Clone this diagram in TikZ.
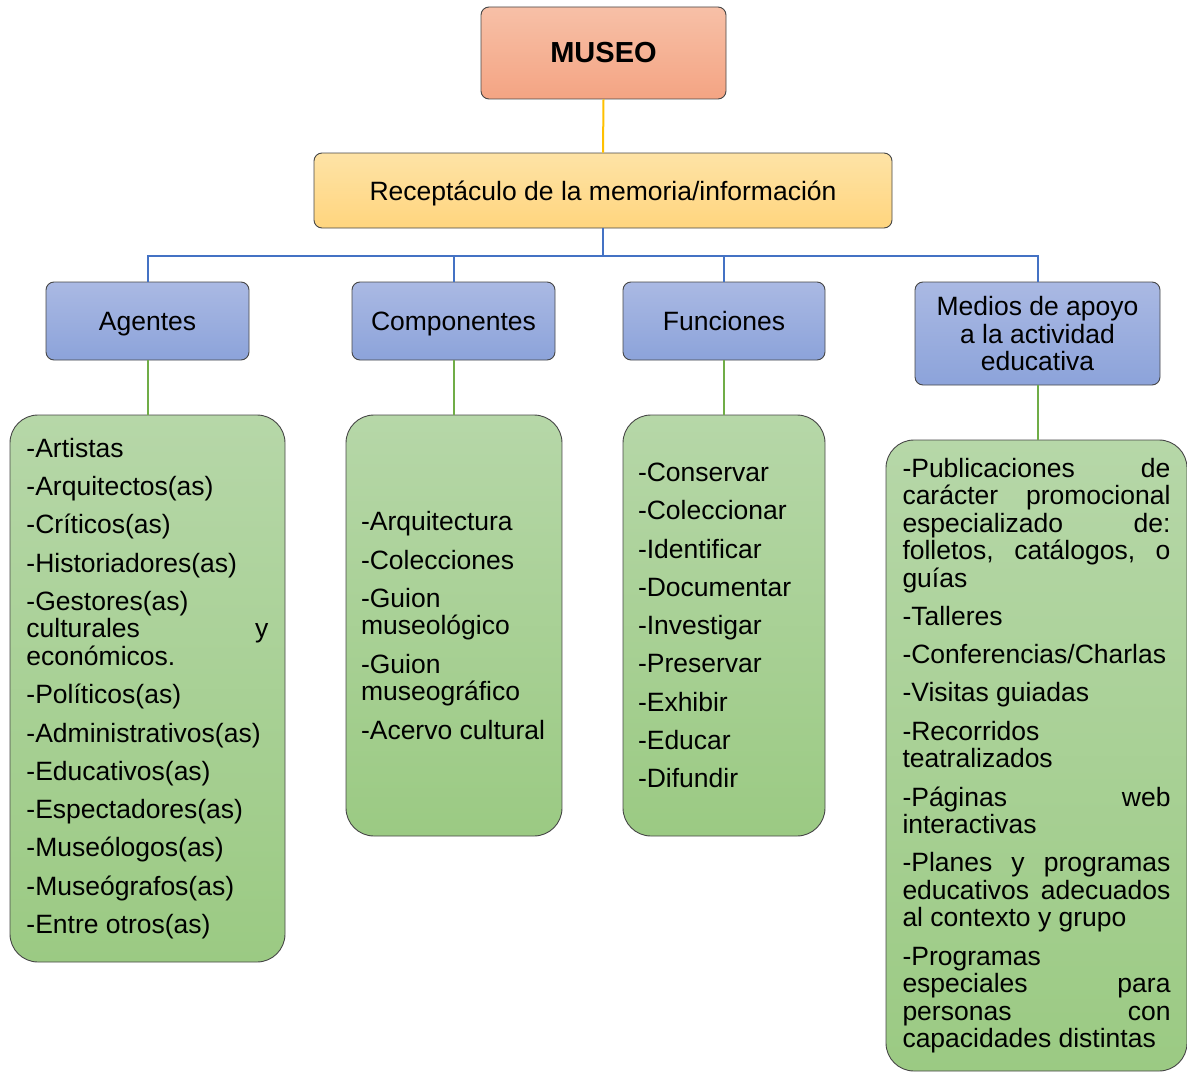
\documentclass[tikz,border=0pt]{standalone}
\usepackage{fontspec}
\setmainfont{Liberation Sans}
\definecolor{salmonA}{HTML}{F7C0A7}
\definecolor{salmonB}{HTML}{F4A483}
\definecolor{amarA}{HTML}{FEE3A6}
\definecolor{amarB}{HTML}{FFD57E}
\definecolor{azulA}{HTML}{AAB9E3}
\definecolor{azulB}{HTML}{8CA3DA}
\definecolor{verdeA}{HTML}{B6D7A8}
\definecolor{verdeB}{HTML}{9BCA83}
\definecolor{lineaAm}{HTML}{FFC000}
\definecolor{lineaAz}{HTML}{4472C4}
\definecolor{lineaVe}{HTML}{70AD47}
\tikzset{
    caja/.style={draw=gray!55!black, line width=0.9pt, rounded corners=8pt, inner sep=0pt,
        font=\fontsize{26.5}{27.5}\selectfont, align=center},
    cabeza/.style={caja, top color=azulA, bottom color=azulB, minimum height=78, text depth=0pt},
    lista/.style={caja, rounded corners=28pt, top color=verdeA, bottom color=verdeB, align=justify,
        execute at begin node={\parindent=0pt\parskip=10.8pt\tolerance=10000%
            \hyphenpenalty=10000\exhyphenpenalty=10000}},
    bajar/.style={execute at end node={\par\vskip-5.5pt}},
}
\begin{document}
\begin{tikzpicture}[x=1pt,y=-1pt]
    \useasboundingbox (0,0) rectangle (1187,1073);
    % arriba
    \node[caja, top color=salmonA, bottom color=salmonB, minimum width=245, minimum height=92,
        font=\fontsize{29}{32}\selectfont\bfseries] (museo) at (603.5,53) {MUSEO};
    \node[caja, top color=amarA, bottom color=amarB, minimum width=578, minimum height=75,
        text depth=0pt] (recep) at (603,190.5) {Receptáculo de la memoria/información};
    % cabezas
    \node[cabeza, minimum width=203] (agentes) at (147.5,321) {Agentes};
    \node[cabeza, minimum width=203] (compon) at (453.5,321) {Componentes};
    \node[cabeza, minimum width=202] (funcion) at (724,321) {Funciones};
    \node[cabeza, minimum width=245, minimum height=103] (medios) at (1037.5,333.5)
        {Medios de apoyo\\a la actividad\\educativa};
    % listas
    \node[lista, bajar, minimum width=275, minimum height=547, text width=242] (lagentes) at (147.5,688.5)
        {-Artistas\par -Arquitectos(as)\par -Críticos(as)\par -Historiadores(as)\par
         -Gestores(as)\linebreak culturales y\linebreak económicos.\par
         -Políticos(as)\par -Administrativos(as)\par -Educativos(as)\par -Espectadores(as)\par
         -Museólogos(as)\par -Museógrafos(as)\par -Entre otros(as)};
    \node[lista, minimum width=216, minimum height=421, text width=186] (lcompon) at (454,625.5)
        {-Arquitectura\par -Colecciones\par -Guion\linebreak museológico\par
         -Guion\linebreak museográfico\par -Acervo cultural};
    \node[lista, minimum width=202, minimum height=421, text width=172] (lfuncion) at (724,625.5)
        {-Conservar\par -Coleccionar\par -Identificar\par -Documentar\par -Investigar\par
         -Preservar\par -Exhibir\par -Educar\par -Difundir};
    \node[lista, bajar, minimum width=301, minimum height=631, text width=268] (lmedios) at (1036.5,755.5)
        {-Publicaciones de\linebreak carácter promocional\linebreak especializado de:\linebreak
         folletos, catálogos, o\linebreak guías\par -Talleres\par -Conferencias/Charlas\par
         -Visitas guiadas\par -Recorridos\linebreak teatralizados\par
         -Páginas web\linebreak interactivas\par
         -Planes y programas\linebreak educativos adecuados\linebreak al contexto y grupo\par
         -Programas\linebreak especiales para\linebreak personas con\linebreak capacidades distintas};
    % conectores
    \draw[lineaAm, line width=2pt] (museo.south) -- (recep.north);
    \foreach \c in {agentes,compon,funcion,medios}
        \draw[lineaAz, line width=2pt] (recep.south) -- ++(0,28) -| (\c.north);
    \draw[lineaVe, line width=2pt] (agentes.south) -- (agentes.south |- lagentes.north);
    \draw[lineaVe, line width=2pt] (compon.south) -- (compon.south |- lcompon.north);
    \draw[lineaVe, line width=2pt] (funcion.south) -- (funcion.south |- lfuncion.north);
    \draw[lineaVe, line width=2pt] (medios.south) -- (medios.south |- lmedios.north);
\end{tikzpicture}
\end{document}
